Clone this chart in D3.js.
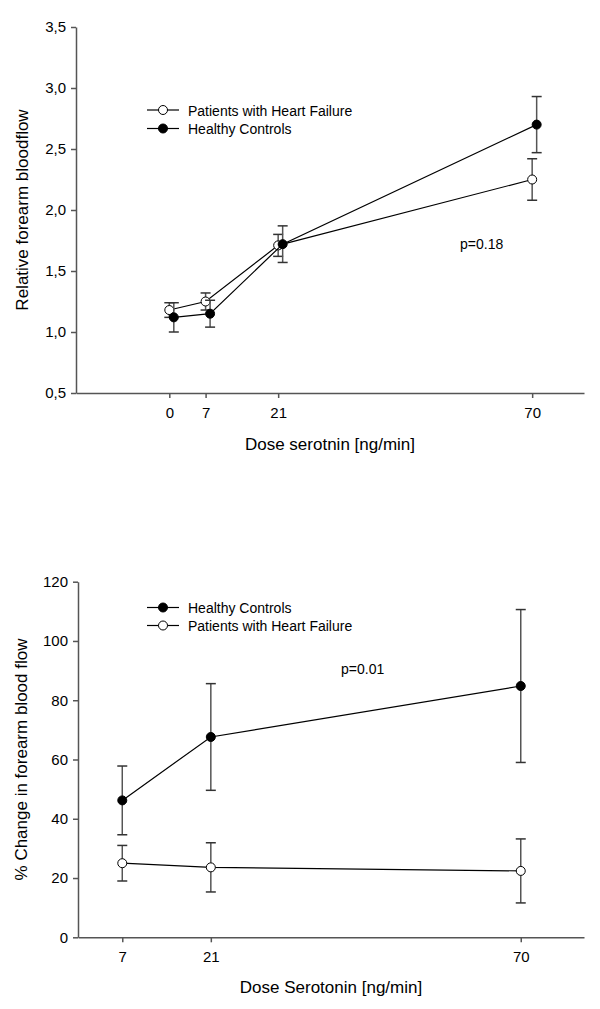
<!DOCTYPE html>
<html>
<head>
<meta charset="utf-8">
<script src="https://cdn.jsdelivr.net/npm/d3@7"></script>
<style>
  body { margin: 0; background: #fff; }
  svg text { font-family: Arial, "Liberation Sans", sans-serif; fill: #000; }
  .axis path, .axis line { stroke: #555; stroke-width: 1.5; }
  .axis text { font-size: 15px; fill: #000; }
</style>
</head>
<body>
<div id="chart"></div>
<script>
// top panel: relative forearm bloodflow
var doses1 = [0, 7, 21, 70];
var hfRel = [1.18, 1.25, 1.71, 2.25];
var hfRelErr = [0.06, 0.07, 0.09, 0.17];
var hcRel = [1.12, 1.15, 1.72, 2.70];
var hcRelErr = [0.12, 0.11, 0.15, 0.23];
var yTicks1 = [0.5, 1.0, 1.5, 2.0, 2.5, 3.0, 3.5];

// bottom panel: % change in forearm blood flow
var doses2 = [7, 21, 70];
var hcPct = [46.2, 67.6, 84.8];
var hcPctErr = [11.6, 18.0, 25.8];
var hfPct = [25.0, 23.6, 22.4];
var hfPctErr = [6.0, 8.3, 10.8];
var yTicks2 = [0, 20, 40, 60, 80, 100, 120];

var svg = d3.select("#chart").append("svg")
  .attr("width", 600)
  .attr("height", 1009);

function drawSeries(g, x, y, xs, vals, errs, filled, dx) {
  // error bars
  xs.forEach(function (d, i) {
    var cx = x(d) + dx;
    var y0 = y(vals[i] - errs[i]), y1 = y(vals[i] + errs[i]);
    g.append("line").attr("x1", cx).attr("x2", cx).attr("y1", y0).attr("y2", y1)
      .attr("stroke", "#555").attr("stroke-width", 1.5);
    [y0, y1].forEach(function (yy) {
      g.append("line").attr("x1", cx - 5).attr("x2", cx + 5).attr("y1", yy).attr("y2", yy)
        .attr("stroke", "#333").attr("stroke-width", 1.5);
    });
  });

  var line = d3.line()
    .x(function (d) { return x(d[0]) + dx; })
    .y(function (d) { return y(d[1]); });

  g.append("path")
    .datum(xs.map(function (d, i) { return [d, vals[i]]; }))
    .attr("fill", "none")
    .attr("stroke", "#000")
    .attr("stroke-width", 1.2)
    .attr("d", line);

  xs.forEach(function (d, i) {
    g.append("circle")
      .attr("cx", x(d) + dx)
      .attr("cy", y(vals[i]))
      .attr("r", 4.5)
      .attr("fill", filled ? "#000" : "#fff")
      .attr("stroke", "#000")
      .attr("stroke-width", 1);
  });
}

function legendRow(g, lx, ly, label, filled) {
  g.append("line").attr("x1", lx).attr("x2", lx + 32).attr("y1", ly).attr("y2", ly)
    .attr("stroke", "#000").attr("stroke-width", 1.2);
  g.append("circle").attr("cx", lx + 16).attr("cy", ly).attr("r", 4.5)
    .attr("fill", filled ? "#000" : "#fff").attr("stroke", "#000");
  g.append("text").attr("x", lx + 41).attr("y", ly + 5.5)
    .style("font-size", "14px").text(label);
}

// ---------- top panel ----------
var x1 = d3.scaleLinear().domain([-18, 80]).range([76, 584]);
var y1 = d3.scaleLinear().domain([0.5, 3.5]).range([393, 27]);
var topG = svg.append("g");

topG.append("g").attr("class", "axis")
  .attr("transform", "translate(0,393)")
  .call(d3.axisBottom(x1).tickValues(doses1).tickSize(5).tickSizeOuter(0).tickPadding(9));
topG.append("g").attr("class", "axis")
  .attr("transform", "translate(76,0)")
  .call(d3.axisLeft(y1).tickValues(yTicks1).tickSize(5).tickSizeOuter(0).tickPadding(5)
    .tickFormat(function (d) { return d3.format(".1f")(d).replace(".", ","); }));

drawSeries(topG, x1, y1, doses1, hfRel, hfRelErr, false, 0);
drawSeries(topG, x1, y1, doses1, hcRel, hcRelErr, true, 4.5);

legendRow(topG, 147, 110, "Patients with Heart Failure", false);
legendRow(topG, 147, 128.5, "Healthy Controls", true);

topG.append("text").attr("x", 460).attr("y", 249).style("font-size", "14px").text("p=0.18");

topG.append("text")
  .attr("transform", "translate(28,210) rotate(-90)")
  .style("text-anchor", "middle").style("font-size", "17px")
  .text("Relative forearm bloodflow");
topG.append("text")
  .attr("x", 330).attr("y", 450)
  .style("text-anchor", "middle").style("font-size", "17px")
  .text("Dose serotnin [ng/min]");

// ---------- bottom panel ----------
var x2 = d3.scaleLinear().domain([0, 80]).range([78, 584]);
var y2 = d3.scaleLinear().domain([0, 120]).range([937.3, 581.7]);
var botG = svg.append("g");

botG.append("g").attr("class", "axis")
  .attr("transform", "translate(0,937.3)")
  .call(d3.axisBottom(x2).tickValues(doses2).tickSize(5).tickSizeOuter(0).tickPadding(9));
botG.append("g").attr("class", "axis")
  .attr("transform", "translate(78,0)")
  .call(d3.axisLeft(y2).tickValues(yTicks2).tickSize(5).tickSizeOuter(0).tickPadding(5));

drawSeries(botG, x2, y2, doses2, hfPct, hfPctErr, false, 0);
drawSeries(botG, x2, y2, doses2, hcPct, hcPctErr, true, 0);

legendRow(botG, 147, 607.5, "Healthy Controls", true);
legendRow(botG, 147, 625.5, "Patients with Heart Failure", false);

botG.append("text").attr("x", 341).attr("y", 674).style("font-size", "14px").text("p=0.01");

botG.append("text")
  .attr("transform", "translate(27,759.5) rotate(-90)")
  .style("text-anchor", "middle").style("font-size", "17px")
  .text("% Change in forearm blood flow");
botG.append("text")
  .attr("x", 331).attr("y", 993)
  .style("text-anchor", "middle").style("font-size", "17px")
  .text("Dose Serotonin [ng/min]");
</script>
</body>
</html>
